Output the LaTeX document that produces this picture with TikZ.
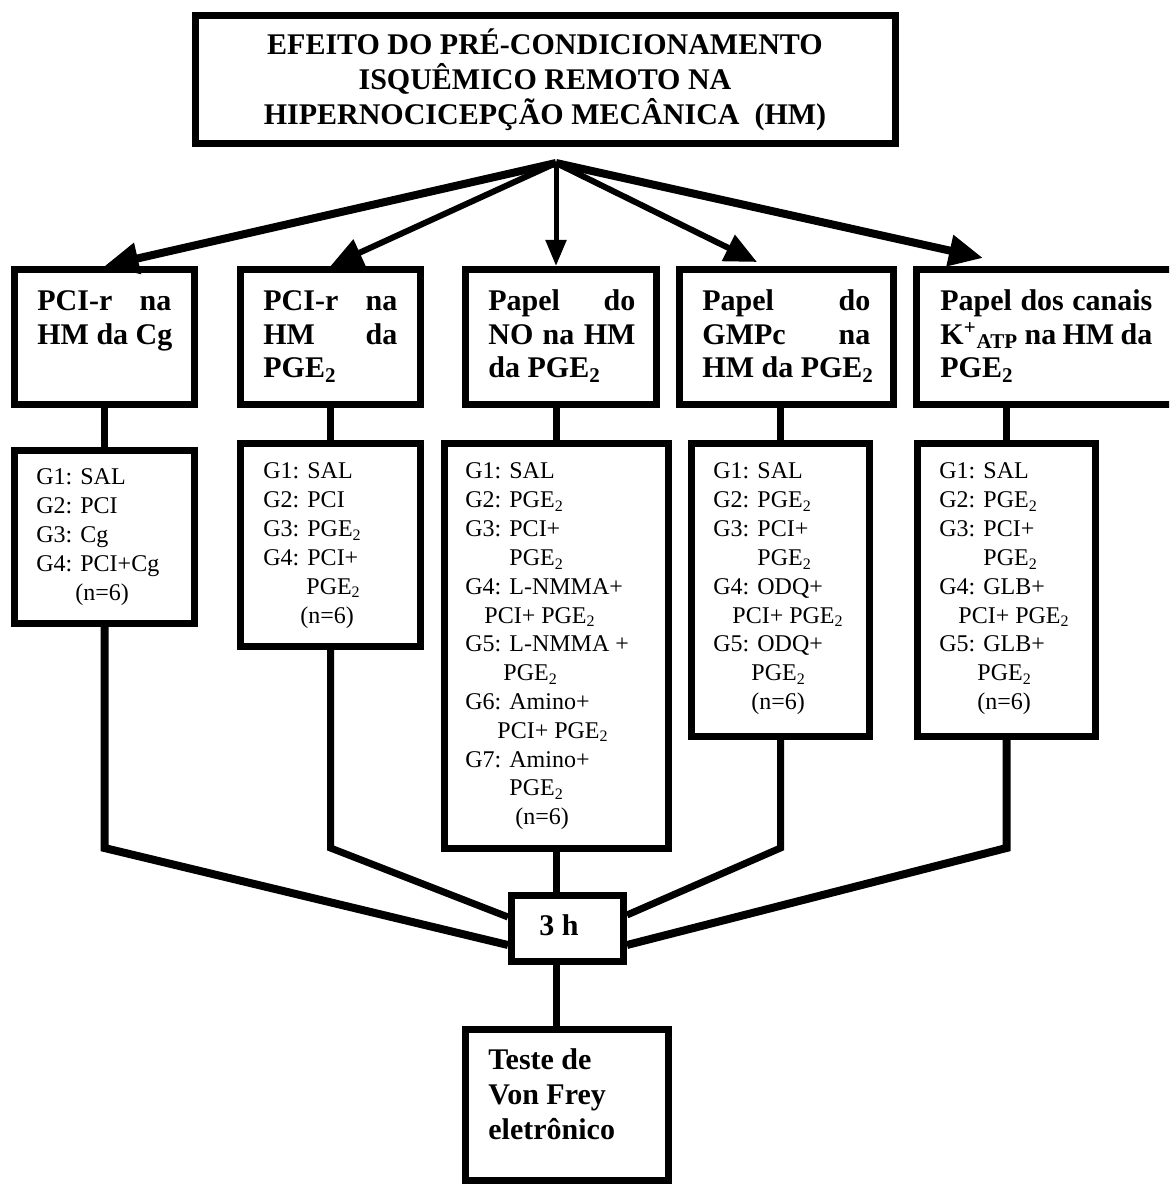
\documentclass[tikz,border=0pt]{standalone}
\usepackage{fontspec}
\setmainfont{Liberation Serif}
\usetikzlibrary{arrows.meta,calc}
\newcommand{\grpl}[1]{\begin{tabular}[t]{@{}l@{}}#1\end{tabular}}
\newcommand{\ctrl}[1]{\begin{tabular}[t]{@{}c@{}}#1\end{tabular}}
\newcommand{\PGE}{PGE\textsubscript{2}}
\tikzset{
  box/.style={draw, line width=3.5pt, inner sep=0pt, fill=white},
  hdr/.style={anchor=base west, inner sep=0pt, font=\fontsize{15}{16.75}\selectfont\bfseries},
  lst/.style={anchor=base west, inner sep=0pt, font=\fontsize{12}{14.4}\selectfont},
  link/.style={line width=3.5pt},
  arrthick/.style={line width=4pt, -{Triangle[length=17pt,width=15pt]}},
  arrmid/.style={line width=3pt, -{Triangle[length=16pt,width=14pt]}},
  arrthin/.style={line width=2.5pt, -{Triangle[length=13pt,width=10pt]}},
}
\begin{document}
\begin{tikzpicture}[x=0.5pt,y=-0.5pt]
\useasboundingbox (0,0) rectangle (1169,1186);
\clip (0,0) rectangle (1169,1186);

% boxes
\node[box, minimum width=350pt, minimum height=64pt] (top) at (545.5,79.5) {};
\node[box, minimum width=90pt, minimum height=67.5pt] (h1) at (104.5,337) {};
\node[box, minimum width=90pt, minimum height=67.5pt] (h2) at (330.5,337) {};
\node[box, minimum width=95.5pt, minimum height=67.5pt] (h3) at (561,337) {};
\node[box, minimum width=107pt, minimum height=67.5pt] (h4) at (786.5,337) {};
\node[box, minimum width=130pt, minimum height=67.5pt] (h5) at (1046.5,337) {};
\node[box, minimum width=90pt, minimum height=86.5pt] (l1) at (104.5,537) {};
\node[box, minimum width=90pt, minimum height=101.5pt] (l2) at (330.5,545) {};
\node[box, minimum width=112pt, minimum height=202.5pt] (l3) at (556.5,646) {};
\node[box, minimum width=89pt, minimum height=146.5pt] (l4) at (780.5,590) {};
\node[box, minimum width=89pt, minimum height=146.5pt] (l5) at (1006.5,590) {};
\node[box, minimum width=56pt, minimum height=33pt] (t3) at (567.5,928.5) {};
\node[box, minimum width=101.5pt, minimum height=75.5pt] (bot) at (567,1105) {};

% title
\node[anchor=base, inner sep=0pt, font=\fontsize{15}{17.5}\selectfont\bfseries] (title) at (545,55)
  {\ctrl{\smash{EFEITO DO PRÉ-CONDICIONAMENTO}\\ \smash{ISQUÊMICO REMOTO NA}\\ \smash{HIPERNOCICEPÇÃO MECÂNICA\ \ (HM)}}};

% header texts
\node[hdr] (h1t) at (37,311) {\grpl{\makebox[67pt][s]{PCI-r na}\\ HM da Cg}};
\node[hdr] (h2t) at (263,311) {\grpl{\makebox[67pt][s]{PCI-r na}\\ \makebox[67pt][s]{HM da}\\ \PGE}};
\node[hdr] (h3t) at (488,311) {\grpl{\makebox[73.5pt][s]{Papel do}\\ \makebox[73.5pt][s]{NO na HM}\\ da \PGE}};
\node[hdr] (h4t) at (702,311) {\grpl{\makebox[84pt][s]{Papel do}\\ \makebox[84pt][s]{GMPc na}\\ HM da \PGE}};
\node[hdr] (h5t) at (940,311) {\grpl{\makebox[106pt][s]{Papel dos canais}\\ \makebox[106pt][s]{K\textsuperscript{+}\textsubscript{ATP} na HM da}\\ \PGE}};

% list texts
\node[lst] (l1t) at (36,485) {\grpl{G1: SAL\\ G2: PCI\\ G3: Cg\\ G4: PCI+Cg\\ \hspace*{19.5pt}(n=6)}};
\node[lst] (l2t) at (263,479) {\grpl{G1: SAL\\ G2: PCI\\ G3: \PGE\\ G4: PCI+\\ \hspace*{21.5pt}\PGE\\ \hspace*{18.5pt}(n=6)}};
\node[lst] (l3t) at (465,479) {\grpl{G1: SAL\\ G2: \PGE\\ G3: PCI+\\ \hspace*{22pt}\PGE\\ G4: L-NMMA+\\ \hspace*{9.5pt}PCI+ \PGE\\ G5: L-NMMA +\\ \hspace*{19pt}\PGE\\ G6: Amino+\\ \hspace*{16pt}PCI+ \PGE\\ G7: Amino+\\ \hspace*{22pt}\PGE\\ \hspace*{25pt}(n=6)}};
\node[lst] (l4t) at (713,479) {\grpl{G1: SAL\\ G2: \PGE\\ G3: PCI+\\ \hspace*{22pt}\PGE\\ G4: ODQ+\\ \hspace*{9.5pt}PCI+ \PGE\\ G5: ODQ+\\ \hspace*{19pt}\PGE\\ \hspace*{19pt}(n=6)}};
\node[lst] (l5t) at (939,479) {\grpl{G1: SAL\\ G2: \PGE\\ G3: PCI+\\ \hspace*{22pt}\PGE\\ G4: GLB+\\ \hspace*{9.5pt}PCI+ \PGE\\ G5: GLB+\\ \hspace*{19pt}\PGE\\ \hspace*{19pt}(n=6)}};

% 3 h and final box texts
\node[anchor=base, inner sep=0pt, font=\fontsize{15}{17.5}\selectfont\bfseries] (t3t) at (559,935) {3 h};
\node[anchor=base west, inner sep=0pt, font=\fontsize{15}{17.5}\selectfont\bfseries] (bott) at (488,1069)
  {\grpl{Teste de\\ Von Frey\\ eletrônico}};

% arrows from the title
\coordinate (src) at (556,163);
\coordinate (a4) at (757,262);
\coordinate (a5) at (983,258);
\draw[arrthick] (src) -- (h1.north);
\draw[arrmid] (src) -- (h2.north);
\draw[arrthin] (src) -- (h3.north -| src);
\draw[arrmid] (src) -- (a4);
\draw[arrthick] (src) -- (a5);

% stems header -> list
\draw[link] (h1.south) -- (l1.north);
\draw[link] (h2.south) -- (l2.north);
\draw[link] (h3.south -| l3.north) -- (l3.north);
\draw[link] (h4.south -| l4.north) -- (l4.north);
\draw[link] (h5.south -| l5.north) -- (l5.north);

% lists -> 3 h
\coordinate (b1) at (104.5,848);
\coordinate (b2) at (330.5,848);
\coordinate (b4) at (780.5,848);
\coordinate (b5) at (1006.5,848);
\draw[link, line width=4pt] (l1.south) -- (b1) -- ($(t3.west)+(0,16.5)$);
\draw[link] (l2.south) -- (b2) -- ($(t3.west)+(0,-11.5)$);
\draw[link] (l4.south) -- (b4) -- ($(t3.east)+(0,-13.5)$);
\draw[link, line width=4pt] (l5.south) -- (b5) -- ($(t3.east)+(0,16.5)$);
\draw[link] (l3.south) -- (l3.south |- t3.north);
\draw[link] (t3.south -| l3.south) -- (bot.north -| l3.south);
\end{tikzpicture}
\end{document}
